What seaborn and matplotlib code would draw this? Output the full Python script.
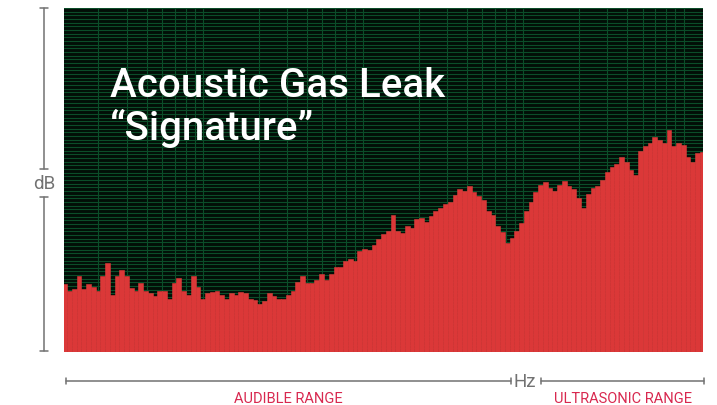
import numpy as np
import pandas as pd
import matplotlib
matplotlib.use("Agg")
import matplotlib.pyplot as plt
from matplotlib.ticker import LogLocator, NullLocator
from matplotlib.lines import Line2D
import seaborn as sns

sns.set_theme(style="white")
plt.rcParams['font.family'] = ['Roboto', 'DejaVu Sans']

# ------------------------------------------------------------------
# Data: level per frequency band (dB, arbitrary scale), low -> high
# ------------------------------------------------------------------
levels = [
    18.5, 16.6, 17.1, 20.7, 17.1, 18.5, 17.7, 16.8, 20.7, 24.2,
    15.5, 20.7, 22.3, 20.7, 17.4, 16.8, 18.8, 16.6, 16.0, 15.2,
    16.6, 16.8, 14.6, 18.8, 20.1, 16.6, 15.7, 20.9, 17.7, 14.4,
    16.0, 16.3, 16.8, 15.5, 14.6, 16.0, 15.5, 16.3, 16.0, 14.4,
    14.1, 13.0, 13.8, 16.0, 15.2, 14.6, 14.4, 15.5, 16.6, 19.0,
    20.7, 18.8, 18.8, 19.6, 21.2, 19.8, 21.2, 23.1, 23.1, 24.8,
    25.3, 24.8, 27.5, 28.1, 27.8, 29.2, 30.8, 32.2, 33.0, 37.4,
    33.0, 32.4, 34.4, 33.8, 36.3, 36.5, 35.4, 37.1, 38.5, 39.3,
    40.4, 40.9, 42.8, 44.5, 43.9, 45.3, 43.7, 42.6, 41.5, 38.5,
    37.4, 34.4, 32.7, 29.7, 31.1, 33.0, 35.2, 38.5, 40.9, 43.7,
    45.6, 46.4, 44.8, 43.9, 45.6, 46.7, 45.3, 44.5, 42.0, 39.3,
    43.1, 44.8, 45.3, 46.9, 49.1, 50.5, 51.3, 53.2, 51.9, 49.7,
    48.3, 54.9, 56.2, 57.1, 58.7, 57.9, 57.1, 60.6, 56.2, 57.1,
    56.5, 53.2, 51.9, 54.3, 54.6,
]
bands = list(range(len(levels)))

title_lines = ["Acoustic Gas Leak", "\u201cSignature\u201d"]
range_labels = ["AUDIBLE RANGE", "ULTRASONIC RANGE"]

# frequency span of the decorative log grid (Hz)
freq_min, freq_max = 12.2, 119000

df = pd.DataFrame({'band': bands, 'level': levels})

bg = '#020e07'
grid_green = '#0b4d29'
bar_red = '#db3838'
axis_grey = '#727272'
label_red = '#d8284f'

fig = plt.figure(figsize=(7.17, 4.06), dpi=100)
fig.patch.set_facecolor('white')

ax = fig.add_axes([64 / 717, 1 - 353 / 406, 639 / 717, 344 / 406])
ax2 = ax.twiny()

# log-frequency grid lives on the twin axis, behind everything
ax2.set_xscale('log')
ax2.set_xlim(freq_min, freq_max)
ax2.xaxis.set_major_locator(NullLocator())
ax2.xaxis.set_minor_locator(LogLocator(base=10, subs=np.arange(2, 10), numticks=20))
ax2.grid(True, which='minor', axis='x', color=grid_green, linewidth=0.8)
ax2.patch.set_visible(True)
ax2.set_facecolor(bg)
ax2.tick_params(which='both', length=0, labeltop=False, labelbottom=False)
ax2.set_zorder(1)

ax.set_zorder(2)
ax.patch.set_visible(False)

sns.barplot(data=df, x='band', y='level', color=bar_red, saturation=1,
            width=1.0, edgecolor=bar_red, linewidth=0.4, ax=ax)

ax.set_xlim(-0.13, len(levels) - 1 + 0.13)
ax.set_ylim(0, 94)
ax.set_yticks(np.arange(0, 95, 1))
ax.set_axisbelow(True)
ax.grid(True, axis='y', color=grid_green, linewidth=0.8)
ax.grid(False, axis='x')
ax.tick_params(length=0, labelleft=False, labelbottom=False)
ax.set_xlabel('')
ax.set_ylabel('')
for a in (ax, ax2):
    for s in a.spines.values():
        s.set_visible(False)

# title inside the plot
fig.text(110 / 717, 1 - 97 / 406, title_lines[0], color='white',
         fontsize=29, fontweight='medium', va='baseline', ha='left', zorder=10)
fig.text(110 / 717, 1 - 140 / 406, title_lines[1], color='white',
         fontsize=29, fontweight='medium', va='baseline', ha='left', zorder=10)


# dimension-style axis annotations
def px_line(x0, y0, x1, y1):
    fig.add_artist(Line2D([x0 / 717, x1 / 717], [1 - y0 / 406, 1 - y1 / 406],
                          color=axis_grey, linewidth=1.1, transform=fig.transFigure))


# dB (vertical)
px_line(44, 9, 44, 170)
px_line(44, 198, 44, 352)
for yy in (9, 170, 198, 352):
    px_line(40, yy, 48, yy)
fig.text(44 / 717, 1 - 184 / 406, 'dB', color=axis_grey, fontsize=13.5,
         ha='center', va='center')

# Hz (horizontal)
px_line(66, 382, 511, 382)
px_line(541, 382, 704, 382)
for xx in (66, 511, 541, 704):
    px_line(xx, 379, xx, 385)
fig.text(525 / 717, 1 - 382 / 406, 'Hz', color=axis_grey, fontsize=13.5,
         ha='center', va='center')

fig.text(288 / 717, 1 - 399 / 406, range_labels[0], color=label_red,
         fontsize=10.5, ha='center', va='center')
fig.text(623 / 717, 1 - 399 / 406, range_labels[1], color=label_red,
         fontsize=10.5, ha='center', va='center')

fig.savefig('out.png', dpi=100, facecolor='white')
